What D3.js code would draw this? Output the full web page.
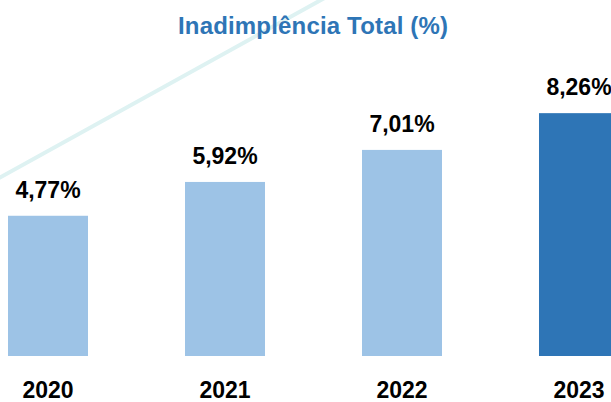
<!DOCTYPE html>
<html>
<head>
<meta charset="utf-8">
<script src="https://cdn.jsdelivr.net/npm/d3@7"></script>
<style>
  body { margin: 0; background: #fff; }
  svg { display: block; }
</style>
</head>
<body>
<div id="chart"></div>
<script>
// chart data
const years = ["2020", "2021", "2022", "2023"];
const rates = [4.77, 5.92, 7.01, 8.26];
const labels = ["4,77%", "5,92%", "7,01%", "8,26%"];
const title = "Inadimplência Total (%)";

const width = 611;
const height = 402;

const svg = d3.select("#chart")
    .append("svg")
    .attr("width", width)
    .attr("height", height);

// decorative diagonal stroke behind everything
svg.append("line")
    .attr("x1", -10).attr("y1", 183)
    .attr("x2", 330).attr("y2", -5)
    .attr("stroke", "#def2f2")
    .attr("stroke-width", 4);

// band scale - step 177, bar width 80
const x = d3.scaleBand()
    .domain(years)
    .range([-40.5, 667.5])
    .paddingInner(0.548)
    .paddingOuter(0.274);

const y = d3.scaleLinear()
    .domain([0, 10])
    .range([356, 62]);

svg.append("text")
    .attr("x", 313)
    .attr("y", 34)
    .attr("text-anchor", "middle")
    .attr("font-family", "Liberation Sans, Arial, sans-serif")
    .attr("font-weight", "bold")
    .attr("font-size", 24)
    .attr("textLength", 270)
    .attr("fill", "#2e75b6")
    .text(title);

svg.selectAll("rect.bar")
    .data(rates)
    .enter()
    .append("rect")
    .attr("class", "bar")
    .attr("x", (d, i) => x(years[i]))
    .attr("y", d => y(d))
    .attr("width", x.bandwidth())
    .attr("height", d => y(0) - y(d))
    .attr("fill", (d, i) => i === 3 ? "#2e75b6" : "#9dc3e6");

svg.selectAll("text.val")
    .data(rates)
    .enter()
    .append("text")
    .attr("class", "val")
    .attr("x", (d, i) => x(years[i]) + x.bandwidth() / 2)
    .attr("y", d => y(d) - 18)
    .attr("text-anchor", "middle")
    .attr("font-family", "Liberation Sans, Arial, sans-serif")
    .attr("font-weight", "bold")
    .attr("font-size", 23)
    .attr("fill", "#000")
    .text((d, i) => labels[i]);

// year labels using the band axis
const xAxis = svg.append("g")
    .attr("transform", `translate(0, ${y(0)})`)
    .call(d3.axisBottom(x).tickSize(0).tickPadding(26));

xAxis.select(".domain").remove();
xAxis.selectAll("text")
    .attr("font-family", "Liberation Sans, Arial, sans-serif")
    .attr("font-weight", "bold")
    .attr("font-size", 23)
    .attr("fill", "#000");
</script>
</body>
</html>
